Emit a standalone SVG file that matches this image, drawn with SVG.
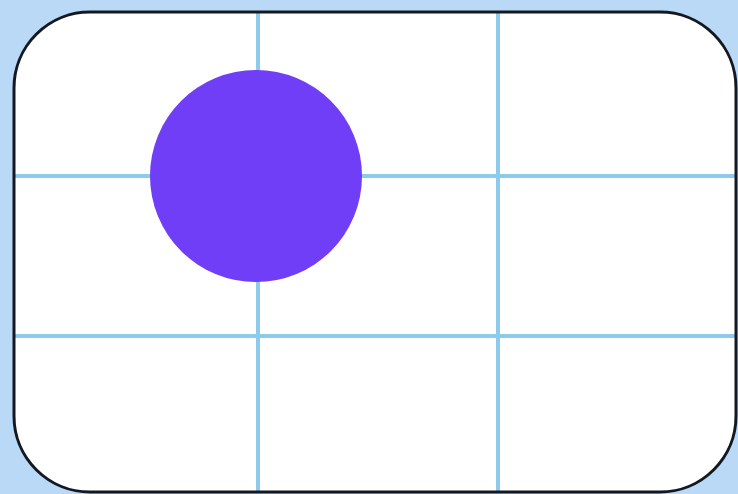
<svg xmlns="http://www.w3.org/2000/svg" width="738" height="494" viewBox="0 0 738 494">
<defs>
<style>
.grid{stroke:#8ccbea;stroke-width:4;fill:none}
</style>
<clipPath id="c"><rect x="14" y="12" width="722" height="480" rx="76" ry="76"/></clipPath>
</defs>
<rect width="738" height="494" fill="#bad9f7"/>
<rect x="14" y="12" width="722" height="480" rx="76" ry="76" fill="#ffffff"/>
<g clip-path="url(#c)">
<line class="grid" x1="258" y1="0" x2="258" y2="494"/>
<line class="grid" x1="498" y1="0" x2="498" y2="494"/>
<line class="grid" x1="0" y1="176" x2="738" y2="176"/>
<line class="grid" x1="0" y1="336" x2="738" y2="336"/>
</g>
<circle cx="256" cy="176" r="106" fill="#6f3ef6"/>
<rect x="14" y="12" width="722" height="480" rx="76" ry="76" fill="none" stroke="#141820" stroke-width="3"/>
</svg>
